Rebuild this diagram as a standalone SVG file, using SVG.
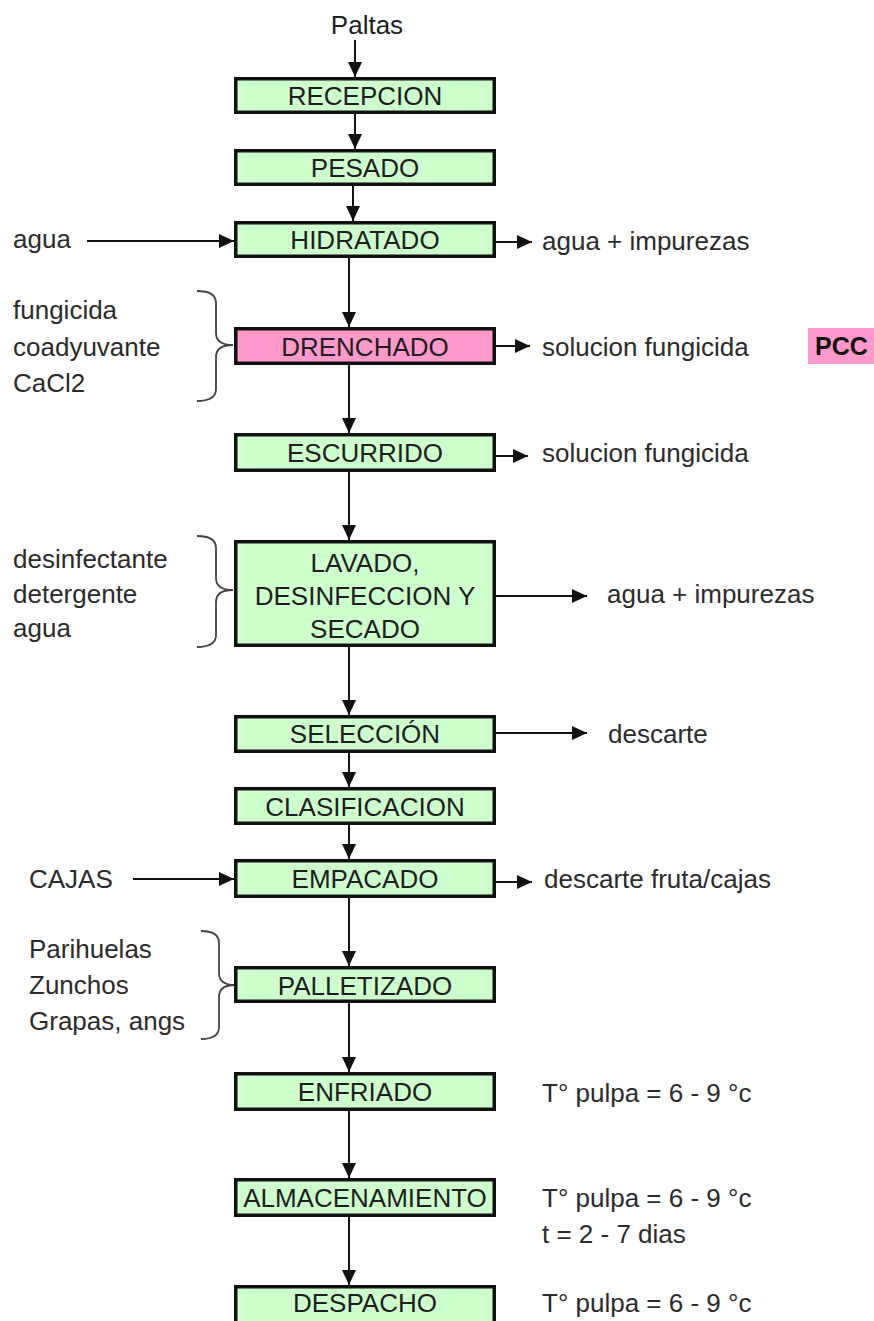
<svg xmlns="http://www.w3.org/2000/svg" width="874" height="1321" viewBox="0 0 874 1321">
<defs>
<style>
.box{fill:#ccffcc;stroke:#111;stroke-width:3.5}
.pink{fill:#ff99cc;stroke:#111;stroke-width:3.5}
.bl{font-family:"Liberation Sans",Arial,sans-serif;font-size:26px;fill:#1e1e1e;text-anchor:middle}
.tx{font-family:"Liberation Sans",Arial,sans-serif;font-size:26px;fill:#2b2b2b}
.con{stroke:#111;stroke-width:2;fill:none;marker-end:url(#ah)}
.brace{stroke:#444;stroke-width:1.8;fill:none}
</style>
<marker id="ah" viewBox="0 0 15 14" refX="15" refY="7" markerWidth="15" markerHeight="14" orient="auto" markerUnits="userSpaceOnUse">
<path d="M0,0 L15,7 L0,14 Z" fill="#111"/>
</marker>
</defs>
<rect width="874" height="1321" fill="#fff"/>

<g id="connectors">
<line class="con" x1="355" y1="40" x2="355" y2="77"/>
<line class="con" x1="355" y1="114" x2="355" y2="149"/>
<line class="con" x1="353" y1="186" x2="353" y2="221"/>
<line class="con" x1="349" y1="258" x2="349" y2="327"/>
<line class="con" x1="349" y1="365" x2="349" y2="433"/>
<line class="con" x1="349" y1="472" x2="349" y2="540"/>
<line class="con" x1="349" y1="647" x2="349" y2="715"/>
<line class="con" x1="349" y1="753" x2="349" y2="787"/>
<line class="con" x1="349" y1="825" x2="349" y2="859"/>
<line class="con" x1="349" y1="898" x2="349" y2="966"/>
<line class="con" x1="349" y1="1003" x2="349" y2="1072"/>
<line class="con" x1="349" y1="1111" x2="349" y2="1178"/>
<line class="con" x1="349" y1="1217" x2="349" y2="1285"/>
<line class="con" x1="87" y1="241" x2="234" y2="241"/>
<line class="con" x1="496" y1="242" x2="532" y2="242"/>
<line class="con" x1="496" y1="346" x2="530" y2="346"/>
<line class="con" x1="496" y1="456" x2="528" y2="456"/>
<line class="con" x1="496" y1="596" x2="587" y2="596"/>
<line class="con" x1="496" y1="733" x2="587" y2="733"/>
<line class="con" x1="133" y1="879" x2="234" y2="879"/>
<line class="con" x1="496" y1="882" x2="532" y2="882"/>
<path class="brace" d="M197,291 C208,291 216,294 216,303 L216,333 C216,341 222,345 233,345 C222,345 216,349 216,357 L216,389 C216,398 208,401 197,401"/>
<path class="brace" d="M197,536 C208,536 216,539 216,548 L216,578 C216,586 222,590 233,590 C222,590 216,594 216,602 L216,635 C216,644 208,647 197,647"/>
<path class="brace" d="M201,931 C212,931 219,934 219,943 L219,973 C219,981 225,985 235,985 C225,985 219,989 219,997 L219,1027 C219,1036 212,1039 201,1039"/>
</g>

<g id="paltas"><text class="bl" x="367" y="34">Paltas</text></g>

<g id="recepcion"><rect class="box" x="235.75" y="78.75" width="258.5" height="33.5"/><text class="bl" x="365" y="105">RECEPCION</text></g>
<g id="pesado"><rect class="box" x="235.75" y="150.75" width="258.5" height="33.5"/><text class="bl" x="365" y="177">PESADO</text></g>
<g id="hidratado"><rect class="box" x="235.75" y="222.75" width="258.5" height="33.5"/><text class="bl" x="365" y="249">HIDRATADO</text></g>
<g id="drenchado"><rect class="pink" x="235.75" y="328.75" width="258.5" height="34.5"/><text class="bl" x="365" y="356">DRENCHADO</text></g>
<g id="escurrido"><rect class="box" x="235.75" y="434.75" width="258.5" height="35.5"/><text class="bl" x="365" y="462">ESCURRIDO</text></g>
<g id="lavado"><rect class="box" x="235.75" y="541.75" width="258.5" height="103.5"/>
<text class="bl" x="365" y="572">LAVADO,</text><text class="bl" x="365" y="605">DESINFECCION Y</text><text class="bl" x="365" y="638">SECADO</text></g>
<g id="seleccion"><rect class="box" x="235.75" y="716.75" width="258.5" height="34.5"/><text class="bl" x="365" y="743">SELECCIÓN</text></g>
<g id="clasificacion"><rect class="box" x="235.75" y="788.75" width="258.5" height="34.5"/><text class="bl" x="365" y="816">CLASIFICACION</text></g>
<g id="empacado"><rect class="box" x="235.75" y="860.75" width="258.5" height="35.5"/><text class="bl" x="365" y="888">EMPACADO</text></g>
<g id="palletizado"><rect class="box" x="235.75" y="967.75" width="258.5" height="33.5"/><text class="bl" x="365" y="995">PALLETIZADO</text></g>
<g id="enfriado"><rect class="box" x="235.75" y="1073.75" width="258.5" height="35.5"/><text class="bl" x="365" y="1101">ENFRIADO</text></g>
<g id="almacenamiento"><rect class="box" x="235.75" y="1179.75" width="258.5" height="35.5"/><text class="bl" x="365" y="1207">ALMACENAMIENTO</text></g>
<g id="despacho"><rect class="box" x="235.75" y="1286.75" width="258.5" height="45"/><text class="bl" x="365" y="1312">DESPACHO</text></g>

<g id="inputs">
<text class="tx" x="13" y="248">agua</text>
<text class="tx" x="13" y="319">fungicida</text>
<text class="tx" x="13" y="356">coadyuvante</text>
<text class="tx" x="13" y="392">CaCl2</text>
<text class="tx" x="13" y="568">desinfectante</text>
<text class="tx" x="13" y="603">detergente</text>
<text class="tx" x="13" y="637">agua</text>
<text class="tx" x="29" y="888">CAJAS</text>
<text class="tx" x="29" y="958">Parihuelas</text>
<text class="tx" x="29" y="994">Zunchos</text>
<text class="tx" x="29" y="1030">Grapas, angs</text>
</g>

<g id="outputs">
<text class="tx" x="542" y="250">agua + impurezas</text>
<text class="tx" x="542" y="356">solucion fungicida</text>
<text class="tx" x="542" y="462">solucion fungicida</text>
<text class="tx" x="607" y="603">agua + impurezas</text>
<text class="tx" x="608" y="743">descarte</text>
<text class="tx" x="544" y="888">descarte fruta/cajas</text>
<text class="tx" x="542" y="1102">T° pulpa = 6 - 9 °c</text>
<text class="tx" x="542" y="1207">T° pulpa = 6 - 9 °c</text>
<text class="tx" x="542" y="1243">t = 2 - 7 dias</text>
<text class="tx" x="542" y="1312">T° pulpa = 6 - 9 °c</text>
</g>

<g id="pcc">
<rect x="808" y="328" width="66" height="36" fill="#ff99cc"/>
<text x="815" y="355" font-family="Liberation Sans, Arial, sans-serif" font-size="25" font-weight="bold" fill="#111">PCC</text>
</g>
</svg>
